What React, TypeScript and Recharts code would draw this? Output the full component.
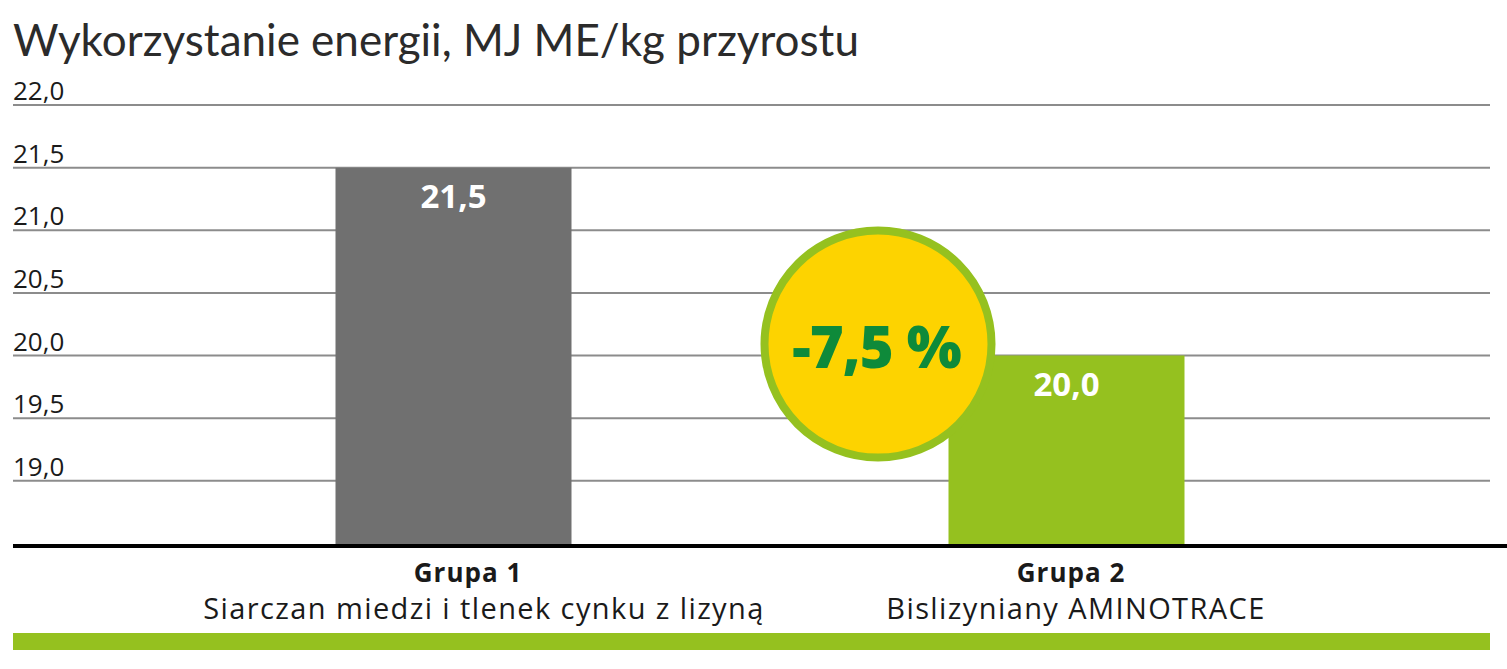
import React from "react";
import { BarChart, Bar, XAxis, YAxis, CartesianGrid, Cell, LabelList } from "recharts";

const categories = ["Grupa 1", "Grupa 2"];
const subtitles = ["Siarczan miedzi i tlenek cynku z lizyną", "Bislizyniany AMINOTRACE"];
const values = [21.5, 20.0];
const valueLabels = ["21,5", "20,0"];
const yTicks = [19.0, 19.5, 20.0, 20.5, 21.0, 21.5, 22.0];
const yTickLabels = ["19,0", "19,5", "20,0", "20,5", "21,0", "21,5", "22,0"];
const barColors = ["#707070", "#95c11f"];
const badgeText = "-7,5 %";
const title = "Wykorzystanie energii, MJ ME/kg przyrostu";

const data = categories.map((c, i) => ({ name: c, sub: subtitles[i], value: values[i], label: valueLabels[i] }));

const titleDx = [15, 5];
const subDx = [31, 10];

const YTick = (props: any) => {
  const { y, payload } = props;
  const idx = yTicks.indexOf(payload.value);
  return (
    <text x={13} y={y - 5} textAnchor="start" fontFamily="'Open Sans'" fontSize={26} fill="#1a1a1a">
      {idx >= 0 ? yTickLabels[idx] : ""}
    </text>
  );
};

const XTick = (props: any) => {
  const { x, y, payload } = props;
  const idx = categories.indexOf(payload.value);
  return (
    <g>
      <text x={x + titleDx[idx]} y={y + 28} textAnchor="middle" fontFamily="'Open Sans'" fontWeight={700} fontSize={26} letterSpacing={1} fill="#1a1a1a">
        {payload.value}
      </text>
      <text x={x + subDx[idx]} y={y + 65} textAnchor="middle" fontFamily="'Open Sans'" fontSize={29} letterSpacing={1.4} fill="#1a1a1a">
        {subtitles[idx]}
      </text>
    </g>
  );
};

const ValueLabel = (props: any) => {
  const { x, y, width, index } = props;
  return (
    <g>
      {index === 1 && (
        <g>
          <circle cx={x - 70.5} cy={y - 11.5} r={113.5} fill="#fdd300" stroke="#95c11f" strokeWidth={8} />
          <text x={x - 72} y={y + 12} textAnchor="middle" fontFamily="'Open Sans'" fontWeight={800} fontSize={58} fill="#0e8a3a" letterSpacing={-1}>
            {badgeText}
          </text>
        </g>
      )}
      <text x={x + width / 2} y={y + 40} textAnchor="middle" fontFamily="'Open Sans'" fontWeight={700} fontSize={33} fill="#ffffff">
        {valueLabels[index]}
      </text>
    </g>
  );
};

const GridLine = (props: any) => {
  const { x1, x2, y1, y2 } = props;
  return <line x1={x1} x2={x2 - 17} y1={y1} y2={y2} stroke="#8c8c8c" strokeWidth={2} />;
};

export default function App() {
  return (
    <div style={{ position: "absolute", left: 0, top: 0, width: 1507, height: 669, background: "#fff" }}>
      <div
        style={{
          position: "absolute",
          left: 13,
          top: 13,
          fontFamily: "Lato",
          fontSize: 44,
          color: "#2b2b2b",
          whiteSpace: "nowrap",
          lineHeight: "52px",
        }}
      >
        {title}
      </div>
      <BarChart width={1507} height={669} data={data} margin={{ top: 105, right: 0, left: 0, bottom: 0 }}>
        <CartesianGrid vertical={false} horizontal={GridLine as any} />
        <YAxis
          width={13}
          domain={[18.48, 22]}
          ticks={yTicks}
          interval={0}
          axisLine={false}
          tickLine={false}
          tick={<YTick />}
          allowDataOverflow
        />
        <XAxis
          dataKey="name"
          height={123}
          padding={{ left: 133.5, right: 134.5 }}
          axisLine={{ stroke: "#000", strokeWidth: 4 }}
          tickLine={false}
          tick={<XTick />}
          interval={0}
        />
        <Bar dataKey="value" barSize={236} isAnimationActive={false}>
          {data.map((d, i) => (
            <Cell key={d.name} fill={barColors[i]} />
          ))}
          <LabelList dataKey="value" content={<ValueLabel />} />
        </Bar>
      </BarChart>
      <div style={{ position: "absolute", left: 13, top: 633, width: 1477, height: 17, background: "#95c11f" }} />
    </div>
  );
}
